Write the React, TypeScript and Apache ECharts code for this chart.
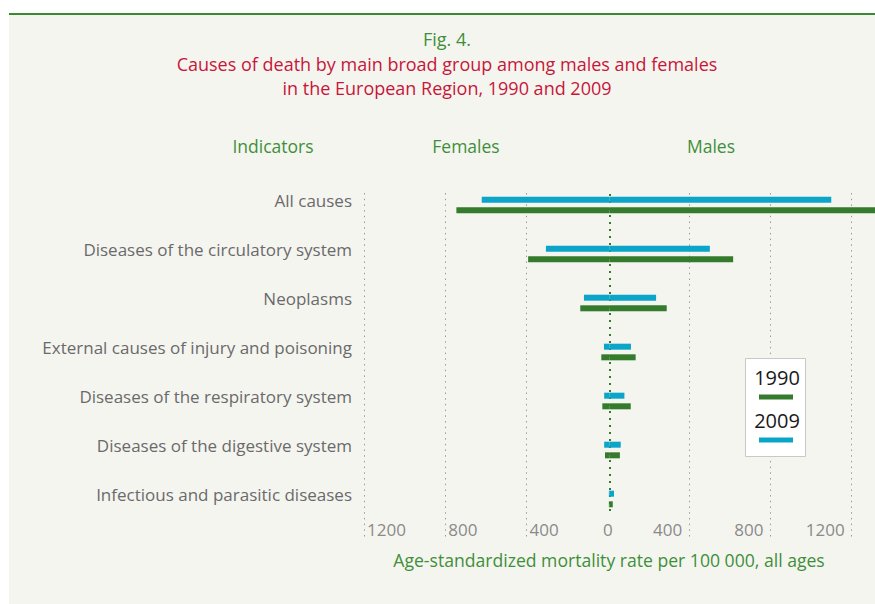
import React, { useEffect, useRef } from "react";
import * as echarts from "echarts";

const categories = [
  "All causes",
  "Diseases of the circulatory system",
  "Neoplasms",
  "External causes of injury and poisoning",
  "Diseases of the respiratory system",
  "Diseases of the digestive system",
  "Infectious and parasitic diseases",
];
const females1990 = [748, 397, 142, 39, 34, 21, 2];
const males1990 = [1300, 606, 281, 129, 105, 52, 17];
const females2009 = [624, 310, 124, 26, 25, 25, 2];
const males2009 = [1086, 492, 229, 106, 74, 56, 23];
const tickValues = [-1200, -800, -400, 0, 400, 800, 1200];
const legendYears = ["1990", "2009"];

const GREEN = "#357b2d";
const BLUE = "#0aa5c8";
const TXT_GREEN = "#3f8f3a";
const RED = "#c8163a";
const FONT = "Open Sans";

export default function App() {
  const ref = useRef<HTMLDivElement>(null);
  useEffect(() => {
    if (!ref.current) return;
    const chart = echarts.init(ref.current, undefined, { renderer: "svg" });
    const gridBase = { left: 364, right: 0 };
    const hiddenY = (i: number) => ({ gridIndex: i, type: "value", min: 0, max: 1, show: false });
    const tickAxis = (gridIndex: number, extra: any) => ({
      gridIndex,
      type: "value",
      min: -1200,
      max: 1300,
      interval: 400,
      axisLine: { show: false },
      axisTick: { show: false },
      splitLine: { show: false },
      ...extra,
    });
    const labelStyle = { color: "#8a8a8a", fontSize: 17, fontFamily: FONT, inside: true, margin: -1 };
    const option: any = {
      animation: false,
      backgroundColor: "#f5f5f0",
      grid: [
        { ...gridBase, top: 180.5, height: 343 },
        { ...gridBase, top: 193, bottom: 67 },
        { ...gridBase, top: 194, bottom: 90 },
        { ...gridBase, top: 193, bottom: 67 },
        { ...gridBase, top: 193, bottom: 67 },
      ],
      xAxis: [
        { gridIndex: 0, type: "value", min: -1200, max: 1300, show: false },
        tickAxis(1, {
          splitLine: {
            show: true,
            lineStyle: {
              color: ["#9a9a9a", "#9a9a9a", "#9a9a9a", "transparent", "#9a9a9a", "#9a9a9a", "#9a9a9a", "transparent"],
              width: 1,
              type: [1.5, 4.2],
            },
          },
          axisLabel: {
            ...labelStyle,
            align: "left",
            padding: [0, 0, 0, 3],
            formatter: (v: number) => (v < 0 && tickValues.includes(v) ? String(-v) : ""),
          },
        }),
        tickAxis(2, {
          interval: 1200,
          axisLabel: { show: false },
          splitLine: {
            show: true,
            lineStyle: { color: ["transparent", GREEN, "transparent", "transparent"], width: 2, type: [2, 5] },
          },
        }),
        tickAxis(3, {
          axisLabel: {
            ...labelStyle,
            align: "right",
            padding: [0, 7, 0, 0],
            formatter: (v: number) => (v > 0 && tickValues.includes(v) ? String(v) : ""),
          },
        }),
        tickAxis(4, {
          axisLabel: {
            ...labelStyle,
            align: "center",
            formatter: (v: number) => (v === 0 ? "0" : ""),
          },
        }),
      ],
      yAxis: [
        {
          gridIndex: 0,
          type: "category",
          inverse: true,
          data: categories,
          axisLine: { show: false },
          axisTick: { show: false },
          splitLine: { show: false },
          axisLabel: {
            margin: 12,
            formatter: (v: string) => "{c|" + v + "}",
            rich: {
              c: {
                color: "#6a6a6a",
                fontSize: 17,
                fontFamily: FONT,
                padding: [0, 0, 10, 0],
              },
            },
          },
        },
        hiddenY(1),
        hiddenY(2),
        hiddenY(3),
        hiddenY(4),
      ],
      series: [
        { name: "2009 females", data: females2009.map((v) => -v), stack: "year2009", color: BLUE },
        { name: "2009 males", data: males2009, stack: "year2009", color: BLUE },
        { name: "1990 females", data: females1990.map((v) => -v), stack: "year1990", color: GREEN },
        { name: "1990 males", data: males1990, stack: "year1990", color: GREEN },
      ].map((s) => ({
        ...s,
        type: "bar",
        xAxisIndex: 0,
        yAxisIndex: 0,
        barWidth: 6,
        barGap: "77%",
        itemStyle: { color: s.color },
      })),
      graphic: [
        { type: "rect", shape: { x: 0, y: 0, width: 875, height: 13 }, style: { fill: "#ffffff" }, z: 100 },
        { type: "rect", shape: { x: 0, y: 0, width: 9, height: 604 }, style: { fill: "#ffffff" }, z: 100 },
        { type: "rect", shape: { x: 9, y: 13, width: 866, height: 2 }, style: { fill: "#3a8a32" }, z: 100 },
        {
          type: "text", x: 447, y: 39, z: 100,
          style: { text: "Fig. 4.", fill: TXT_GREEN, fontSize: 18, fontFamily: FONT, align: "center", verticalAlign: "middle" },
        },
        {
          type: "text", x: 447, y: 64, z: 100,
          style: { text: "Causes of death by main broad group among males and females", fill: RED, fontSize: 18, fontFamily: FONT, align: "center", verticalAlign: "middle" },
        },
        {
          type: "text", x: 447, y: 88, z: 100,
          style: { text: "in the European Region, 1990 and 2009", fill: RED, fontSize: 18, fontFamily: FONT, align: "center", verticalAlign: "middle" },
        },
        ...[["Indicators", 273], ["Females", 466], ["Males", 711]].map(([t, x]) => ({
          type: "text", x, y: 146, z: 100,
          style: { text: t, fill: TXT_GREEN, fontSize: 17.5, fontFamily: FONT, align: "center", verticalAlign: "middle" },
        })),
        {
          type: "text", x: 609, y: 560, z: 100,
          style: { text: "Age-standardized mortality rate per 100 000, all ages", fill: TXT_GREEN, fontSize: 17.6, fontFamily: FONT, align: "center", verticalAlign: "middle" },
        },
        {
          type: "rect", z: 100,
          shape: { x: 745.5, y: 358.5, width: 60, height: 98 },
          style: { fill: "#ffffff", stroke: "#c8c8c8", lineWidth: 1 },
        },
        {
          type: "text", x: 777, y: 377, z: 101,
          style: { text: legendYears[0], fill: "#1a1a1a", fontSize: 20, fontFamily: FONT, align: "center", verticalAlign: "middle" },
        },
        { type: "rect", z: 101, shape: { x: 759, y: 394.5, width: 34, height: 5 }, style: { fill: GREEN } },
        {
          type: "text", x: 777, y: 420, z: 101,
          style: { text: legendYears[1], fill: "#1a1a1a", fontSize: 20, fontFamily: FONT, align: "center", verticalAlign: "middle" },
        },
        { type: "rect", z: 101, shape: { x: 759, y: 437.5, width: 34, height: 5 }, style: { fill: BLUE } },
      ],
    };
    chart.setOption(option);
    return () => chart.dispose();
  }, []);
  return (
    <div
      ref={ref}
      style={{ position: "fixed", left: 0, top: 0, width: 875, height: 604 }}
    />
  );
}
